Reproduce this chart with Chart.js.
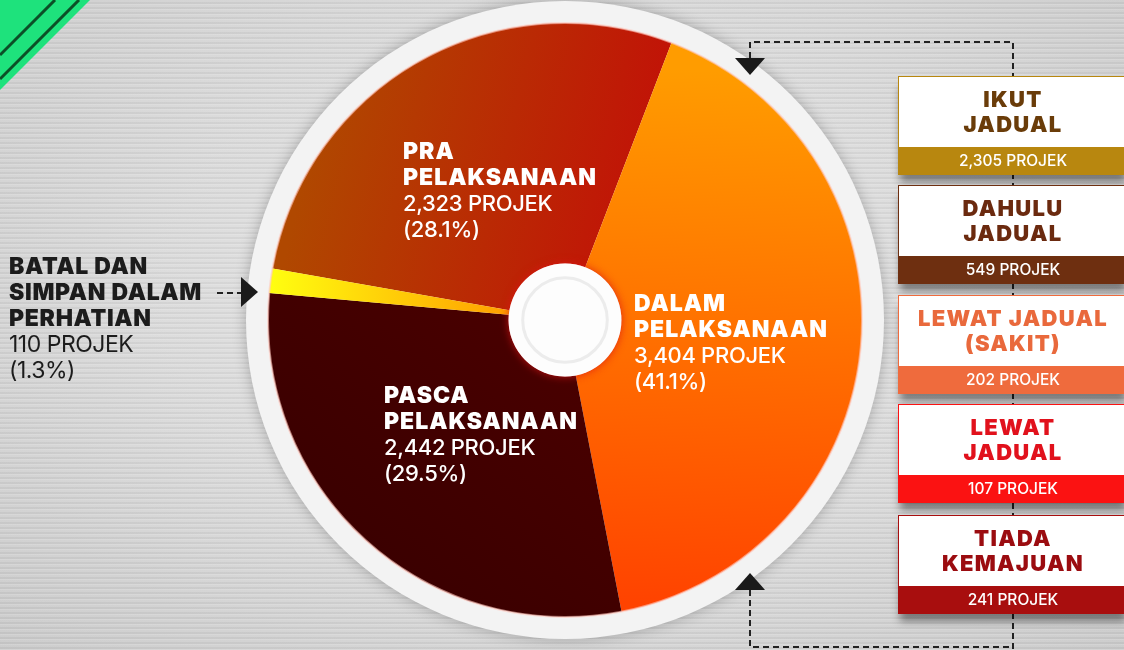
<!DOCTYPE html>
<html>
<head>
<meta charset="utf-8">
<script src="https://cdn.jsdelivr.net/npm/chart.js"></script>
<style>
  html, body { margin: 0; padding: 0; }
  body {
    width: 1124px; height: 650px; overflow: hidden; position: relative;
    font-family: Inter, "Noto Sans", sans-serif;
    background: radial-gradient(ellipse at 50% 45%, #e9e9e9 0%, #dadada 50%, #c9c9c9 100%);
  }
  .streaks {
    position: absolute; left: 0; top: 0; width: 1124px; height: 650px;
    background: repeating-linear-gradient(0deg, rgba(255,255,255,0.18) 0 1px, rgba(0,0,0,0.03) 1px 3px, rgba(255,255,255,0.07) 3px 5px);
  }
  #chartBox { position: absolute; left: 0; top: 0; width: 1124px; height: 650px; }
  svg.deco { position: absolute; left: 0; top: 0; }
  .lbl { position: absolute; color: #fff; font-size: 23px; line-height: 26px; white-space: nowrap; }
  .lbl .h { font-weight: 900; letter-spacing: 1px; }
  .lbl .s { font-weight: 500; font-size: 22px; letter-spacing: -0.3px; }
  .lbl.dark { color: #1c1c1c; }
  .lbl.dark .h { font-weight: 900; letter-spacing: 0.7px; }
  .lbl.dark .s { font-weight: 400; font-size: 23px; letter-spacing: -0.5px; }
  .box {
    position: absolute; left: 898px; width: 230px; background: #fff;
    box-shadow: 0 9px 8px -2px rgba(0,0,0,0.45);
    border: 1.5px solid; box-sizing: border-box;
  }
  .box .t {
    height: 70px; display: flex; align-items: center; justify-content: center; text-align: center;
    font-size: 22px; line-height: 25px; font-weight: 900; letter-spacing: 1.3px;
  }
  .box .b {
    height: 27px; color: #fff; text-align: center; font-size: 15.5px; line-height: 27px; font-weight: 500;
  }
</style>
</head>
<body>
<div class="streaks"></div>
<div id="chartBox"><canvas id="pie"></canvas></div>
<svg class="deco" width="1124" height="650">
  <polygon points="0,0 90,0 0,90" fill="#1ee27c"/>
  <line x1="55" y1="0" x2="0" y2="55" stroke="#0b4f27" stroke-width="3"/>
  <line x1="79" y1="0" x2="0" y2="79" stroke="#0b4f27" stroke-width="3"/>
  <g fill="none" stroke="#222" stroke-width="2" stroke-dasharray="6 4">
    <path d="M750 58 V42 H1013 V650"/>
    <path d="M750 590 V647 H1013"/>
    <path d="M217 293 H241"/>
  </g>
  <g fill="#1a1a1a">
    <polygon points="735,58 765,58 750,75"/>
    <polygon points="735,590 765,590 750,573"/>
    <polygon points="241,277 258,292 241,307"/>
  </g>
</svg>
<div id="labels"></div>
<script>
const categories = [
  ["PRA", "PELAKSANAAN"],
  ["DALAM", "PELAKSANAAN"],
  ["PASCA", "PELAKSANAAN"],
  ["BATAL DAN", "SIMPAN DALAM", "PERHATIAN"]
];
const projectCounts = [2323, 3404, 2442, 110];
const percentLabels = ["28.1%", "41.1%", "29.5%", "1.3%"];

const statusNames = [
  ["IKUT", "JADUAL"],
  ["DAHULU", "JADUAL"],
  ["LEWAT JADUAL", "(SAKIT)"],
  ["LEWAT", "JADUAL"],
  ["TIADA", "KEMAJUAN"]
];
const statusCounts = [2305, 549, 202, 107, 241];

// styling / layout
const sliceGradients = [
  { from: [-0.9, -0.4], to: [0.35, -0.1], stops: ["#b04800", "#c40b08"] },
  { from: [0.3, -0.85], to: [0.2, 0.95], stops: ["#ff9c00", "#ff4300"] },
  { from: [-0.6, 0.9], to: [0.1, 0.1], stops: ["#3a0000", "#4a0000"] },
  { from: [-1, 0], to: [-0.2, 0], stops: ["#ffff10", "#ffa000"] }
];
const labelPos = [
  { left: 403, top: 138, cls: "" },
  { left: 634, top: 290, cls: "" },
  { left: 384, top: 382, cls: "" },
  { left: 9, top: 253, cls: "dark" }
];
const boxTops = [76, 185, 295, 404, 515];
const boxBand = ["#b8870f", "#6e2f10", "#ef6b3d", "#fb1212", "#a80e0e"];
const boxTitle = ["#6a3c09", "#6b2a0f", "#e9693c", "#e1111c", "#9b0c10"];

const fmt = n => n.toLocaleString("en-US");

const labels = document.getElementById("labels");
categories.forEach((lines, i) => {
  const d = document.createElement("div");
  d.className = "lbl " + labelPos[i].cls;
  d.style.left = labelPos[i].left + "px";
  d.style.top = labelPos[i].top + "px";
  d.innerHTML = lines.map(l => '<div class="h">' + l + '</div>').join("") +
    '<div class="s">' + fmt(projectCounts[i]) + ' PROJEK</div>' +
    '<div class="s">(' + percentLabels[i] + ')</div>';
  labels.appendChild(d);
});

statusNames.forEach((lines, i) => {
  const d = document.createElement("div");
  d.className = "box";
  d.style.top = boxTops[i] + "px";
  d.style.borderColor = boxBand[i];
  d.innerHTML = '<div class="t" style="color:' + boxTitle[i] + '"><div>' + lines.join("<br>") + '</div></div>' +
    '<div class="b" style="background:' + boxBand[i] + '">' + fmt(statusCounts[i]) + ' PROJEK</div>';
  document.body.appendChild(d);
});

function sliceFill(context) {
  const chart = context.chart;
  const a = chart.chartArea;
  const g = sliceGradients[context.dataIndex];
  if (!a) return g.stops[0];
  const cx = (a.left + a.right) / 2, cy = (a.top + a.bottom) / 2;
  const r = Math.min(a.right - a.left, a.bottom - a.top) / 2;
  const grad = chart.ctx.createLinearGradient(cx + g.from[0] * r, cy + g.from[1] * r, cx + g.to[0] * r, cy + g.to[1] * r);
  grad.addColorStop(0, g.stops[0]);
  grad.addColorStop(1, g.stops[1]);
  return grad;
}

const ringPlugin = {
  id: "ring",
  beforeDatasetsDraw(chart) {
    const arc = chart.getDatasetMeta(0).data[0];
    if (!arc) return;
    const ctx = chart.ctx;
    ctx.save();
    ctx.shadowColor = "rgba(0,0,0,0.25)";
    ctx.shadowBlur = 14;
    ctx.beginPath();
    ctx.arc(arc.x, arc.y, arc.outerRadius + 22, 0, Math.PI * 2);
    ctx.fillStyle = "#f3f3f3";
    ctx.fill();
    ctx.restore();
  },
  afterDatasetsDraw(chart) {
    const arc = chart.getDatasetMeta(0).data[0];
    if (!arc) return;
    const ctx = chart.ctx;
    ctx.save();
    ctx.beginPath();
    ctx.arc(arc.x, arc.y, arc.outerRadius, 0, Math.PI * 2);
    ctx.strokeStyle = "rgba(255,200,190,0.6)";
    ctx.lineWidth = 2;
    ctx.stroke();
    ctx.shadowColor = "rgba(220,20,20,0.8)";
    ctx.shadowBlur = 8;
    ctx.beginPath();
    ctx.arc(arc.x, arc.y, arc.innerRadius, 0, Math.PI * 2);
    ctx.fillStyle = "#fdfdfd";
    ctx.fill();
    ctx.shadowBlur = 0;
    ctx.beginPath();
    ctx.arc(arc.x, arc.y, arc.innerRadius * 0.75, 0, Math.PI * 2);
    ctx.strokeStyle = "#ececec";
    ctx.lineWidth = 3;
    ctx.stroke();
    ctx.restore();
  }
};

new Chart(document.getElementById("pie"), {
  type: "doughnut",
  data: {
    labels: categories.map(l => l.join(" ")),
    datasets: [{
      data: projectCounts,
      backgroundColor: sliceFill,
      borderWidth: 0,
      hoverOffset: 0
    }]
  },
  options: {
    responsive: true,
    maintainAspectRatio: false,
    animation: false,
    cutout: "19%",
    rotation: 280,
    layout: { padding: { top: 23, bottom: 33, left: 268, right: 262 } },
    plugins: { legend: { display: false }, tooltip: { enabled: false } }
  },
  plugins: [ringPlugin]
});
</script>
</body>
</html>
